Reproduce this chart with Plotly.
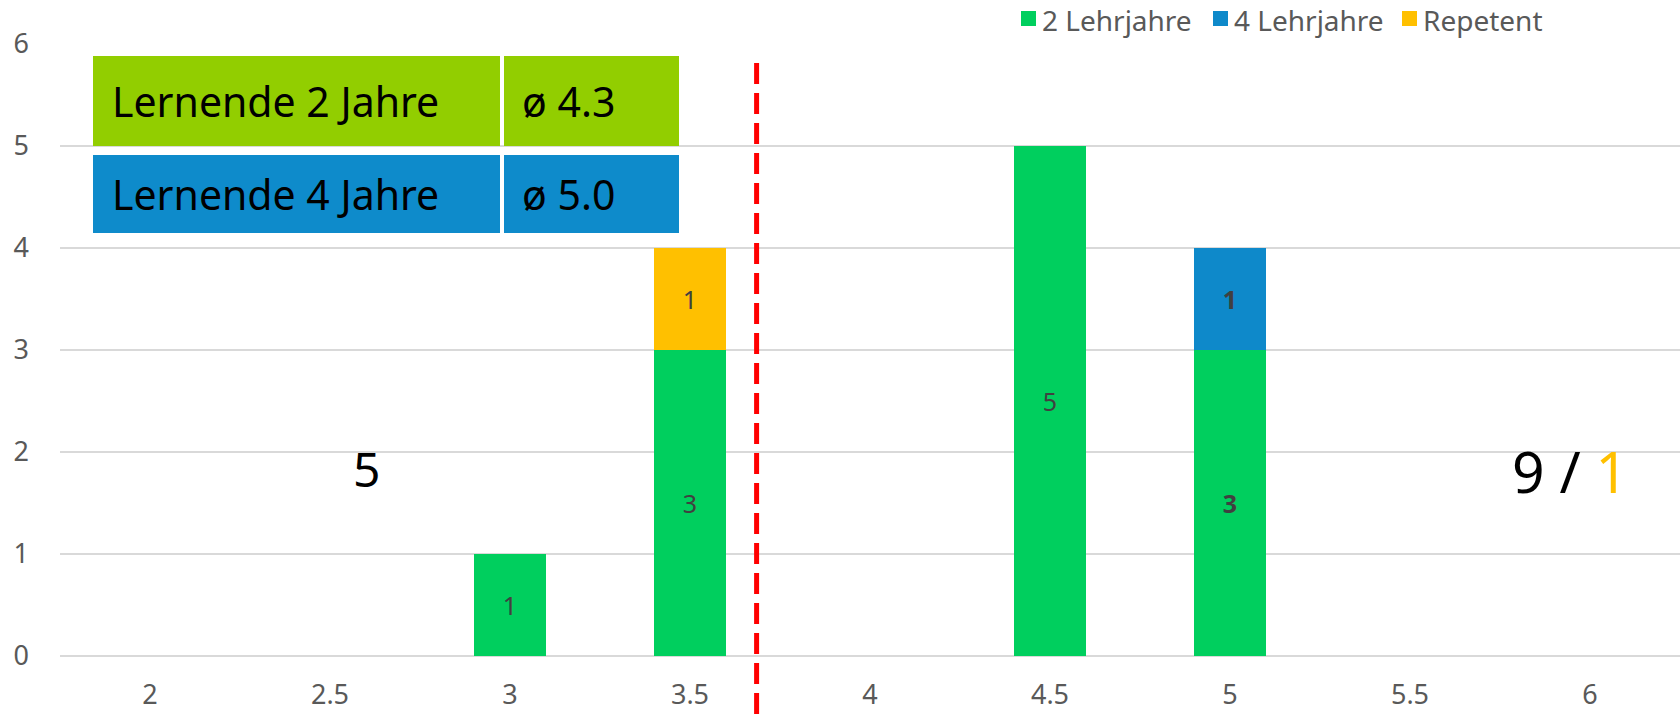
import plotly.graph_objects as go

categories = ["2", "2.5", "3", "3.5", "4", "4.5", "5", "5.5", "6"]
lehrjahre2 = [0, 0, 1, 3, 0, 5, 3, 0, 0]
lehrjahre4 = [0, 0, 0, 0, 0, 0, 1, 0, 0]
repetent = [0, 0, 0, 1, 0, 0, 0, 0, 0]
y_ticks = [0, 1, 2, 3, 4, 5, 6]
series_names = ["2 Lehrjahre", "4 Lehrjahre", "Repetent"]

box_rows = ["Lernende 2 Jahre", "Lernende 4 Jahre"]
box_avgs = ["ø 4.3", "ø 5.0"]
count_left = "5"
count_right = ("9", "1")
cutoff_index = 3.37

FONT = "Noto Sans"
C_GREEN = "#00CF5E"
C_BLUE = "#0E89CA"
C_ORANGE = "#FFC000"
BOX_GREEN = "#92CE00"
BOX_BLUE = "#0E8BCB"
series_colors = [C_GREEN, C_BLUE, C_ORANGE]

bold_points = {("2 Lehrjahre", "5"), ("4 Lehrjahre", "5")}


def labels(name, vals):
    out = []
    for c, v in zip(categories, vals):
        if not v:
            out.append("")
        elif (name, c) in bold_points:
            out.append(f"<b>{v}</b>")
        else:
            out.append(str(v))
    return out


fig = go.Figure()
for name, vals, col in zip(series_names, [lehrjahre2, lehrjahre4, repetent], series_colors):
    fig.add_trace(go.Bar(
        x=categories, y=vals, name=name, marker_color=col, marker_line_width=0,
        text=labels(name, vals), textposition="inside", insidetextanchor="middle",
        textangle=0, constraintext="none", showlegend=False,
        textfont=dict(size=25, color="#404040", family=FONT),
        hoverinfo="x+y+name",
    ))

W, H = 1680, 714
ml, mr, mt, mb = 60, 0, 44, 58
pw = W - ml - mr
ph = H - mt - mb
n = len(categories)


def px_x(p):
    return (p - ml) / pw


def px_y(p):
    return (H - mb - p) / ph


shapes = []
annotations = []

# legend (drawn manually for exact placement)
legend_sq_x = [1021, 1213, 1402]
for name, col, sx in zip(series_names, series_colors, legend_sq_x):
    shapes.append(dict(type="rect", xref="paper", yref="paper",
                       x0=px_x(sx), x1=px_x(sx + 15), y0=px_y(26), y1=px_y(11),
                       fillcolor=col, line_width=0))
    annotations.append(dict(xref="paper", yref="paper", x=px_x(sx + 20), y=px_y(20),
                            xanchor="left", yanchor="middle", text=name, showarrow=False,
                            borderpad=0,
                            font=dict(size=28, color="#595959", family=FONT)))

rows_y = [(56, 146), (155, 233)]
cols_x = [(93, 500), (504, 679)]
colors = [BOX_GREEN, BOX_BLUE]
for (y0, y1), col, lab, avg in zip(rows_y, colors, box_rows, box_avgs):
    for (x0, x1), txt, pad in zip(cols_x, [lab, avg], [17, 16]):
        shapes.append(dict(type="rect", xref="paper", yref="paper",
                           x0=px_x(x0), x1=px_x(x1), y0=px_y(y1), y1=px_y(y0),
                           fillcolor=col, line_width=0, layer="above"))
        annotations.append(dict(xref="paper", yref="paper", x=px_x(x0 + pad),
                                y=px_y((y0 + y1) / 2), xanchor="left", yanchor="middle",
                                text=txt, showarrow=False,
                                font=dict(size=41, color="black", family=FONT)))

xl = (cutoff_index + 0.5) / n
shapes.append(dict(type="line", xref="paper", yref="paper", x0=xl, x1=xl,
                   y0=px_y(714), y1=px_y(54),
                   line=dict(color="#FF0000", width=5, dash="21px,9px"), layer="above"))

annotations.append(dict(xref="x", yref="y", x=1.2, y=1.84, text=count_left,
                        showarrow=False, font=dict(size=48, color="black", family=FONT)))
annotations.append(dict(xref="x", yref="y", x=7.89, y=1.81,
                        text=f"{count_right[0]} / <span style='color:{C_ORANGE}'>{count_right[1]}</span>",
                        showarrow=False, font=dict(size=57, color="black", family=FONT)))

fig.update_layout(
    width=W, height=H, barmode="stack", bargap=0.6,
    margin=dict(l=ml, r=mr, t=mt, b=mb, pad=0),
    paper_bgcolor="white", plot_bgcolor="white",
    font=dict(family=FONT, color="#595959"),
    shapes=shapes, annotations=annotations, showlegend=False,
    xaxis=dict(type="category", categoryorder="array", categoryarray=categories,
               showgrid=False, showline=False, zeroline=False, ticks="",
               tickfont=dict(size=27, color="#595959"), ticklabelstandoff=20,
               range=[-0.5, n - 0.5]),
    yaxis=dict(range=[0, 6], tickvals=y_ticks, showgrid=True, gridcolor="#D9D9D9",
               gridwidth=1.5, zeroline=True, zerolinecolor="#D9D9D9", zerolinewidth=2,
               showline=False, ticks="", tickfont=dict(size=27, color="#595959"),
               ticklabelstandoff=30),
)

fig.write_html("out.html", config={"displayModeBar": False},
               post_script="document.body.style.margin='0';")
